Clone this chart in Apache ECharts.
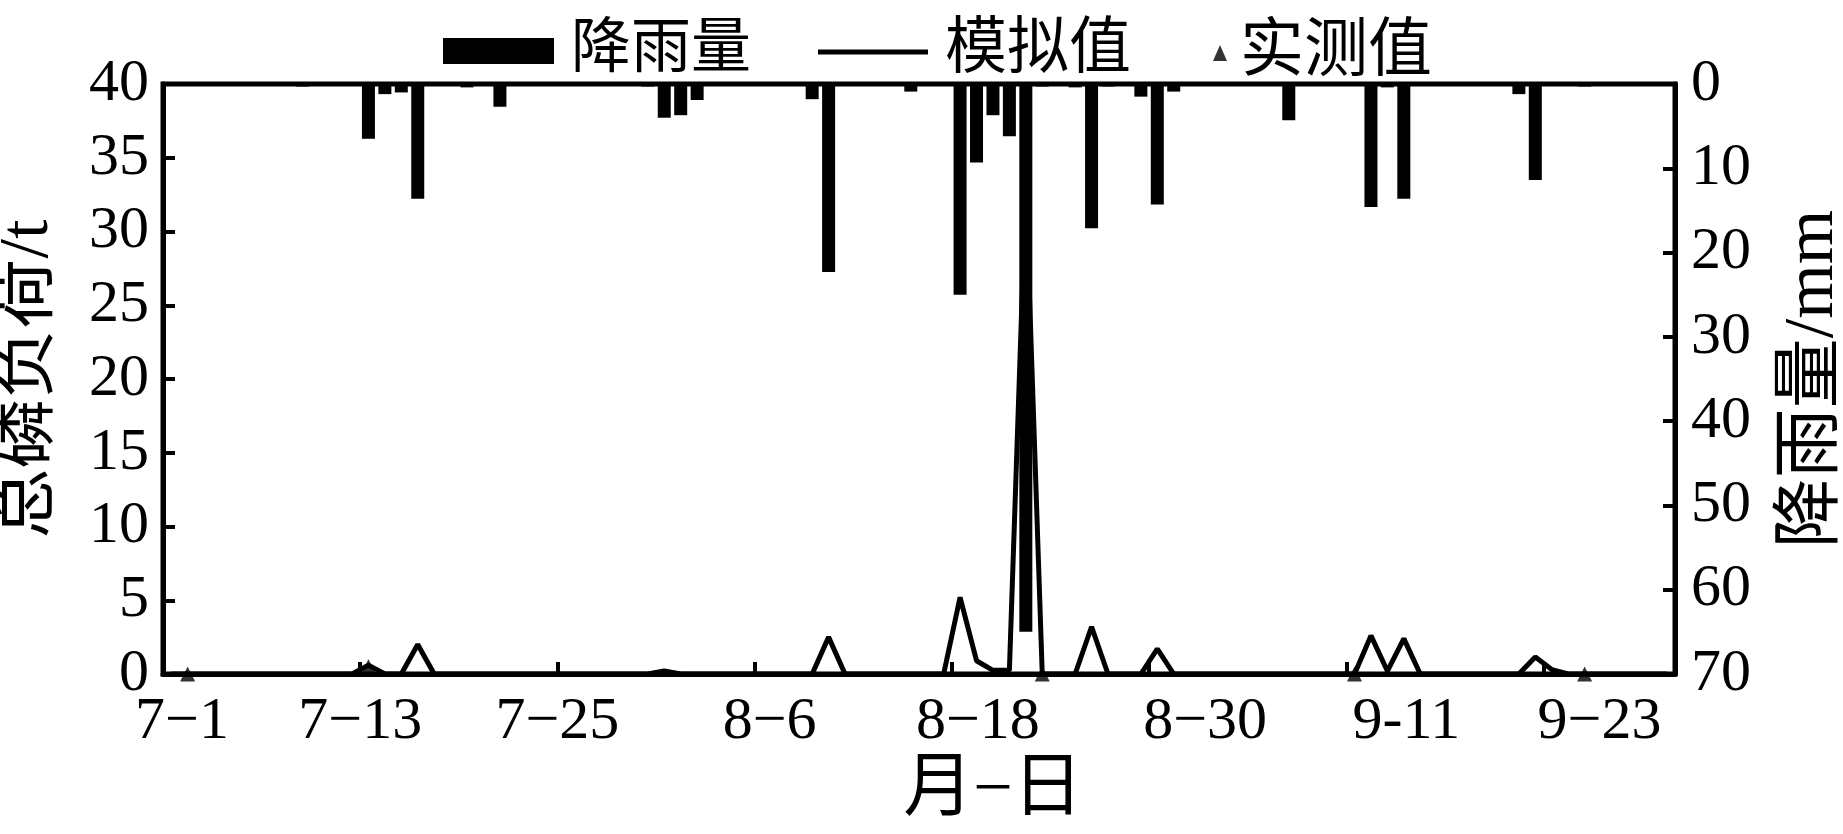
<!DOCTYPE html>
<html>
<head>
<meta charset="utf-8">
<script src="https://cdn.jsdelivr.net/npm/echarts@6/dist/echarts.min.js"></script>
<style>
  html, body { margin: 0; background: #fff; }
  #main { width: 1843px; height: 834px; }
</style>
</head>
<body>
<div id="main"></div>
<script>
// x tick labels, one every 12 days starting 7-1
const tickLabels = ['7\u22121', '7\u221213', '7\u221225', '8\u22126', '8\u221218', '8\u221230', '9-11', '9\u221223']

// simulated total phosphorus load (t), one value per day from 7-1 to 9-30
const simLoad = [
  0, 0, 0, 0, 0, 0, 0, 0, 0, 0,
  0, 0, 0.6, 0, 0, 2.0, 0, 0, 0, 0,
  0, 0, 0, 0, 0, 0, 0, 0, 0, 0,
  0.2, 0, 0, 0, 0, 0, 0, 0, 0, 0,
  2.5, 0, 0, 0, 0, 0, 0, 0, 5.2, 0.9,
  0.25, 0.25, 33, 0, 0, 0, 3.2, 0, 0, 0,
  1.7, 0, 0, 0, 0, 0, 0, 0, 0, 0,
  0, 0, 0, 2.6, 0.2, 2.4, 0, 0, 0, 0,
  0, 0, 0, 1.15, 0.3, 0, 0, 0, 0, 0,
  0, 0
]

// rainfall (mm)
const rainDates = ['7-9', '7-13', '7-14', '7-15', '7-16', '7-19', '7-21', '7-30', '7-31', '8-1',
  '8-2', '8-9', '8-10', '8-15', '8-18', '8-19', '8-20', '8-21', '8-22', '8-23',
  '8-25', '8-26', '8-27', '8-29', '8-30', '8-31', '9-7', '9-12', '9-13', '9-14',
  '9-21', '9-22', '9-25']
const rainMm = [0.3, 6.5, 1.2, 1.0, 13.6, 0.4, 2.7, 0.3, 4.0, 3.7,
  1.9, 1.8, 22.3, 0.9, 25.0, 9.3, 3.7, 6.2, 65.0, 0.3,
  0.4, 17.1, 0.3, 1.5, 14.3, 0.9, 4.3, 14.6, 0.4, 13.6,
  1.2, 11.4, 0.3]

// measured load (t)
const obsDates = ['7-2', '7-13', '8-23', '9-11', '9-25']
const obsLoad = [0, 0.5, 0, 0, 0]

function dayIndex(s) {
  const [m, d] = s.split('-').map(Number)
  const start = { 7: 0, 8: 31, 9: 62 }
  return start[m] + d - 1
}

const font = "'Liberation Serif', 'Noto Sans CJK SC'"

// the printed date labels sit a little right of their ticks in the figure
const labelShift = [38, 0, 0, 30, 52, 112, 120, 112]
const rich = {}
labelShift.forEach((p, i) => {
  rich['l' + i] = { fontSize: 60, fontFamily: font, color: '#000', padding: [0, 0, 0, p] }
})

const myChart = echarts.init(document.getElementById('main'))
myChart.setOption({
  animation: false,
  backgroundColor: '#fff',
  textStyle: { fontFamily: font, color: '#000' },
  grid: {
    left: 163, right: 168, top: 84, bottom: 160, outerBoundsMode: 'none',
    show: true, borderColor: '#000', borderWidth: 5, backgroundColor: 'transparent'
  },
  legend: [
    {
      data: ['降雨量'], left: 438, top: 16, selectedMode: false,
      icon: 'rect', itemWidth: 111, itemHeight: 26,
      textStyle: { fontSize: 60, fontFamily: font, color: '#000', padding: [0, 0, 0, 12] }
    },
    {
      data: ['模拟值'], left: 813, top: 16, selectedMode: false,
      icon: 'rect', itemWidth: 110, itemHeight: 5,
      textStyle: { fontSize: 62, fontFamily: font, color: '#000', padding: [0, 0, 0, 12] }
    },
    {
      data: ['实测值'], left: 1208, top: 16, selectedMode: false,
      icon: 'triangle', itemWidth: 14, itemHeight: 16,
      textStyle: { fontSize: 64, fontFamily: font, color: '#000', padding: [0, 0, 0, 8] }
    }
  ],
  xAxis: {
    type: 'value', min: 0, max: 92, interval: 12,
    name: '月\u2212日', nameLocation: 'middle', nameGap: 74,
    nameTextStyle: { fontSize: 70, fontFamily: font, color: '#000', padding: [0, 0, 0, 148] },
    axisLine: { lineStyle: { color: '#000', width: 5 } },
    axisTick: { inside: true, length: 12, lineStyle: { width: 4 } },
    axisLabel: {
      fontSize: 60, margin: 18, color: '#000', showMaxLabel: false, rich: rich,
      formatter: v => (v % 12 === 0 && tickLabels[v / 12] ? '{l' + v / 12 + '|' + tickLabels[v / 12] + '}' : '')
    },
    splitLine: { show: false }
  },
  yAxis: [
    {
      type: 'value', min: 0, max: 40, interval: 5,
      name: '总磷负荷/t', nameLocation: 'middle', nameRotate: 90, nameGap: 99,
      nameTextStyle: { fontSize: 70, fontFamily: font, color: '#000' },
      axisLine: { show: true, lineStyle: { color: '#000', width: 5 } },
      axisTick: { show: true, inside: true, length: 12, lineStyle: { width: 4 } },
      axisLabel: { fontSize: 60, margin: 14, color: '#000' },
      splitLine: { show: false }
    },
    {
      type: 'value', min: 0, max: 70, interval: 10, inverse: true, position: 'right',
      name: '降雨量/mm', nameLocation: 'middle', nameRotate: 90, nameGap: 104,
      nameTextStyle: { fontSize: 70, fontFamily: font, color: '#000' },
      axisLine: { show: true, lineStyle: { color: '#000', width: 5 } },
      axisTick: { show: true, inside: true, length: 12, lineStyle: { width: 4 } },
      axisLabel: { fontSize: 60, margin: 16, color: '#000' },
      splitLine: { show: false }
    }
  ],
  series: [
    {
      name: '降雨量', type: 'bar', yAxisIndex: 1, barWidth: 13,
      itemStyle: { color: '#000' },
      data: rainDates.map((d, i) => [dayIndex(d) + 0.5, rainMm[i]])
    },
    {
      name: '模拟值', type: 'line', yAxisIndex: 0, symbol: 'none',
      lineStyle: { color: '#000', width: 5 }, itemStyle: { color: '#000' },
      data: simLoad.map((v, i) => [i + 0.5, v])
    },
    {
      name: '实测值', type: 'scatter', yAxisIndex: 0, symbol: 'triangle', symbolSize: 15,
      itemStyle: { color: '#000' },
      data: obsDates.map((d, i) => [dayIndex(d) + 0.5, obsLoad[i]])
    }
  ]
})
</script>
</body>
</html>
